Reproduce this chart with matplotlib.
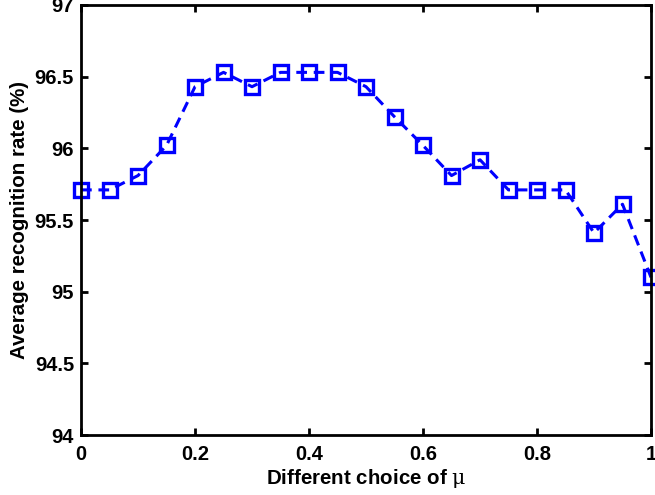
import matplotlib
matplotlib.use('Agg')
import matplotlib.pyplot as plt

mu_values = [0.0, 0.05, 0.1, 0.15, 0.2, 0.25, 0.3, 0.35, 0.4, 0.45, 0.5,
             0.55, 0.6, 0.65, 0.7, 0.75, 0.8, 0.85, 0.9, 0.95, 1.0]
recognition_rate = [95.71, 95.71, 95.81, 96.02, 96.43, 96.53, 96.43, 96.53, 96.53, 96.53, 96.43,
                    96.22, 96.02, 95.81, 95.92, 95.71, 95.71, 95.71, 95.41, 95.61, 95.10]
x_ticks = [0, 0.2, 0.4, 0.6, 0.8, 1]
x_tick_labels = ['0', '0.2', '0.4', '0.6', '0.8', '1']
y_ticks = [94, 94.5, 95, 95.5, 96, 96.5, 97]
y_tick_labels = ['94', '94.5', '95', '95.5', '96', '96.5', '97']

plt.rcParams['font.family'] = ['Liberation Sans', 'DejaVu Sans']
plt.rcParams['mathtext.fontset'] = 'custom'
plt.rcParams['mathtext.it'] = 'DejaVu Serif'

fig = plt.figure(figsize=(6.55, 4.95), dpi=100)
ax = fig.add_axes([0.1237, 0.1212, 0.8702, 0.8687])

ax.plot(mu_values, recognition_rate, color='#0000ff', linestyle='--', linewidth=2.2,
        dashes=(3.5, 2.2), marker='s', markersize=9.5, markerfacecolor='none',
        markeredgewidth=2.4, markeredgecolor='#0000ff', clip_on=False)

ax.set_xlim(0, 1)
ax.set_ylim(94, 97)
ax.set_xticks(x_ticks)
ax.set_xticklabels(x_tick_labels)
ax.set_yticks(y_ticks)
ax.set_yticklabels(y_tick_labels)
ax.tick_params(direction='in', length=5, width=2, top=True, right=True, labelsize=14.5)
ax.tick_params(axis='x', pad=7)
ax.tick_params(axis='y', pad=5)
for lbl in ax.get_xticklabels() + ax.get_yticklabels():
    lbl.set_fontweight('bold')
for spine in ax.spines.values():
    spine.set_linewidth(2)

ax.set_xlabel('Different choice of $\\mu$', fontsize=14.8, fontweight='bold', labelpad=2)
ax.set_ylabel('Average recognition rate (%)', fontsize=14.8, fontweight='bold', labelpad=4)

fig.savefig('out.png', dpi=100)
